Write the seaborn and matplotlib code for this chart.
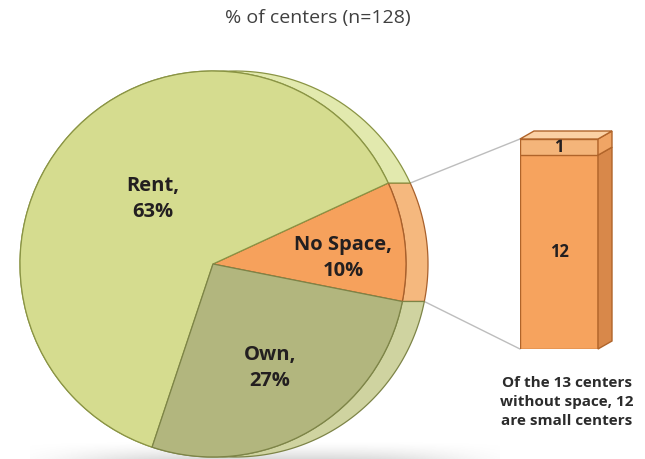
import numpy as np
import pandas as pd
import matplotlib
matplotlib.use('Agg')
import matplotlib.pyplot as plt
import seaborn as sns
from matplotlib.patches import Polygon
from matplotlib.transforms import IdentityTransform

# Data
labels = ['No Space', 'Rent', 'Own']
shares = [10, 63, 27]
n_centers = 128
bar_labels = ['Other', 'Small']
bar_values = [1, 12]   # of the 13 centers without space

front_colors = ['#f6a15c', '#d5dc8f', '#b2b67e']
side_colors = ['#f5b87e', '#e2e9ae', '#cfd3a0']
edge_colors = ['#a8602c', '#8a9444', '#7d8447']

sns.set_theme(style='white')
plt.rcParams['font.family'] = ['Open Sans', 'DejaVu Sans']

W, H = 645, 459
fig = plt.figure(figsize=(W / 100, H / 100), dpi=100)
ax = fig.add_axes([0, 0, 1, 1])

# pie geometry (pixel-like data coords, y up)
cx, cy, R = 213, H - 264, 193
depth = 22
start = -11.2

# soft shadow under the pie
gx = np.linspace(30, 500, 300)
gy = np.linspace(0, 18, 40)
GX, GY = np.meshgrid(gx, gy)
alpha = 0.32 * np.exp(-np.abs((GX - 265) / 190) ** 4) * np.clip(1 - GY / 18, 0, 1) ** 1.5
shadow = np.zeros(GX.shape + (4,))
shadow[..., :3] = 0.55
shadow[..., 3] = alpha
ax.imshow(shadow, extent=(30, 500, 0, 18), origin='lower', aspect='auto',
          interpolation='bilinear', zorder=0)

# wedge angles
bounds = start + np.concatenate([[0], np.cumsum(shares)]) * 3.6

# side band of the "thick" pie
for i in range(len(shares)):
    th = np.radians(np.linspace(bounds[i], bounds[i + 1], 120))
    front = np.c_[cx + R * np.cos(th), cy + R * np.sin(th)]
    back = np.c_[cx + depth + R * np.cos(th[::-1]), cy + R * np.sin(th[::-1])]
    ax.add_patch(Polygon(np.vstack([front, back]), closed=True,
                         facecolor=side_colors[i], edgecolor=edge_colors[i],
                         lw=0.9, zorder=1))

wedges, _ = ax.pie(shares, colors=front_colors, startangle=start,
                   center=(cx, cy), radius=R, frame=True,
                   wedgeprops=dict(lw=0.9))
for w, ec in zip(wedges, edge_colors):
    w.set_edgecolor(ec)
    w.set_zorder(2)

# slice labels (pixel positions of label centres)
label_pos = [(343, 258), (153, 199), (270, 368)]
for (lx, ly), lab, s in zip(label_pos, labels, shares):
    ax.text(lx, H - ly, f'{lab},\n{s}%', ha='center', va='center', fontsize=14.5,
            fontweight='bold', color='#231f20', linespacing=1.4, zorder=5)

ax.set_xlim(0, W)
ax.set_ylim(0, H)
ax.set_aspect('auto')
ax.axis('off')

# stacked bar for the "No Space" slice
bx0, bx1, by_top, by_bot = 520, 598, 139, 349
bax = fig.add_axes([bx0 / W, (H - by_bot) / H, (bx1 - bx0) / W, (by_bot - by_top) / H])
total = sum(bar_values)
df = pd.DataFrame({'g': ['x'], 'total': [total], 'small': [bar_values[1]]})
sns.barplot(data=df, x='g', y='total', color='#f4b57a', width=1.0, saturation=1,
            edgecolor='#b0642a', linewidth=1.0, ax=bax)
sns.barplot(data=df, x='g', y='small', color='#f6a35e', width=1.0, saturation=1,
            edgecolor='#b0642a', linewidth=1.0, ax=bax)
bax.set_xlim(-0.5, 0.5)
bax.set_ylim(0, total)
bax.axis('off')
bax.text(0, bar_values[1] / 2, str(bar_values[1]), ha='center', va='center',
         fontsize=12, fontweight='bold', color='#231f20')
bax.text(0, bar_values[1] + bar_values[0] / 2, str(bar_values[0]), ha='center',
         va='center', fontsize=12, fontweight='bold', color='#231f20')

# 3D faces of the bar (from the drawn bars' extents)
dx, dy = 14, 8
top_patch, main_patch = bax.patches[0], bax.patches[1]
bb_all = top_patch.get_window_extent()
bb_main = main_patch.get_window_extent()
faces = [
    ([(bb_main.x1, bb_main.y0), (bb_main.x1 + dx, bb_main.y0 + dy),
      (bb_main.x1 + dx, bb_main.y1 + dy), (bb_main.x1, bb_main.y1)], '#d8884a'),
    ([(bb_all.x1, bb_main.y1), (bb_all.x1 + dx, bb_main.y1 + dy),
      (bb_all.x1 + dx, bb_all.y1 + dy), (bb_all.x1, bb_all.y1)], '#f0a565'),
    ([(bb_all.x0, bb_all.y1), (bb_all.x0 + dx, bb_all.y1 + dy),
      (bb_all.x1 + dx, bb_all.y1 + dy), (bb_all.x1, bb_all.y1)], '#fbd1a4'),
]
for pts, fc in faces:
    fig.add_artist(Polygon(pts, closed=True, transform=IdentityTransform(),
                           facecolor=fc, edgecolor='#b0642a', lw=1.0))

# connector lines from the slice to the bar
th_hi, th_lo = np.radians(bounds[1]), np.radians(bounds[0])
p_hi = (cx + depth + R * np.cos(th_hi), cy + R * np.sin(th_hi))
p_lo = (cx + depth + R * np.cos(th_lo), cy + R * np.sin(th_lo))
ax.plot([p_hi[0], bx0], [p_hi[1], H - by_top], color='#bdbdbd', lw=1.0, zorder=0.5)
ax.plot([p_lo[0], bx0], [p_lo[1], H - by_bot], color='#bdbdbd', lw=1.0, zorder=0.5)

# texts
ax.text(318, H - 18, f'% of centers (n={n_centers})', ha='center', va='center',
        fontsize=14, color='#404040')
ax.text(567, H - 402, f'Of the {total} centers\nwithout space, {bar_values[1]}\nare small centers',
        ha='center', va='center', fontsize=11, fontweight='bold', color='#2b2b2b',
        linespacing=1.45)

fig.savefig('out.png', dpi=100)
